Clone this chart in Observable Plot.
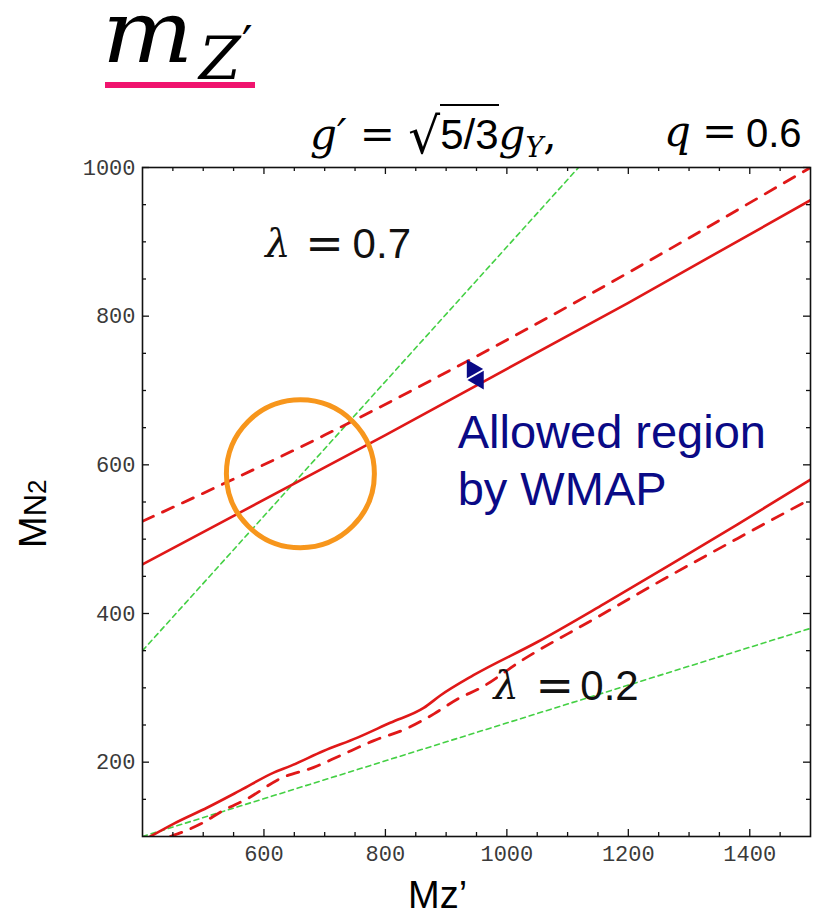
<!DOCTYPE html>
<html><head><meta charset="utf-8">
<script src="https://cdn.jsdelivr.net/npm/d3@7"></script>
<script src="https://cdn.jsdelivr.net/npm/@observablehq/plot@0.6"></script>
<style>
body{margin:0;background:#fff;width:823px;height:916px;overflow:hidden;position:relative;}
#head{position:relative;height:150px;}
.ser{font-family:"DejaVu Serif","Liberation Serif",serif;font-style:italic;}
.rm{font-family:"DejaVu Serif","Liberation Serif",serif;}
.sans{font-family:"Liberation Sans",Arial,sans-serif;}
.abs{position:absolute;white-space:pre;}
</style></head><body>
<div id="head">
  <div class="abs ser" style="left:102px;top:2px;font-size:86px;line-height:60px;transform:scaleX(1.12);transform-origin:left center">m</div>
  <div class="abs ser" style="left:199px;top:38px;font-size:60px;line-height:40px">Z<span class="rm" style="font-style:normal;font-size:48px;position:relative;top:-18px;left:1px">′</span></div>
  <div style="position:absolute;left:105px;top:82px;width:150px;height:6px;background:#f0146e"></div>
  <div class="abs" style="left:310px;top:112px;font-size:42px;line-height:40px"><span class="ser">g′</span><span class="rm"> = </span><span class="rm" style="font-size:50px;position:relative;top:4px">√</span><span class="sans" style="border-top:2px solid #000;padding-top:5px">5/3</span><span class="ser">g</span><span class="ser" style="font-size:27px;position:relative;top:8px">Y</span><span class="rm">,</span></div>
  <div class="abs ser" style="left:664px;top:112px;font-size:42px;line-height:40px">q</div>
  <div class="abs rm" style="left:702px;top:112px;font-size:42px;line-height:40px">=</div>
  <div class="abs sans" style="left:746px;top:113px;font-size:40px;line-height:40px">0.6</div>
</div>
<div id="chart"></div>
<div class="abs sans" style="left:14px;top:548px;line-height:1;transform:rotate(-90deg);transform-origin:left top;font-size:38px">M<span style="font-size:31px">N</span><span style="font-size:26px">2</span></div>
<div class="abs sans" style="left:408px;top:876px;line-height:1;font-size:38px">Mz’</div>
<script>
// ---- data ----
const upperSolid = [[400,466],[800,640],[1200,818],[1500,956]];
const upperDashed = [[400,524],[700,640],[1000,768],[1500,1000]];
const lowerSolid = [[413,100],[451,117],[507,139],[561,162],[616,186],[644,195],[698,215],[754,233],[808,253],[863,273],[891,290],[945,317],[1051,362],[1160,413],[1270,466],[1380,520],[1500,580]];
const lowerDashed = [[446,100],[496,117],[533,135],[573,151],[627,178],[682,193],[726,209],[781,229],[837,246],[880,265],[919,285],[957,300],[1023,336],[1138,390],[1258,446],[1380,501],[1500,554]];
const greenUpper = [[400,350],[1118,1000]];
const greenLower = [[400,100],[1500,380]];
const circleCenter = [[660,588]];
const arrowHeads = [{x:943,y:729,rot:90},{x:953,y:714,rot:-90}];
const xTickLabels = [600,800,1000,1200,1400];
const yTickLabels = [200,400,600,800,1000];
const xMinor = d3.range(450,1500,50).filter(d=>!xTickLabels.includes(d));
const yMinor = d3.range(150,1000,50).filter(d=>!yTickLabels.includes(d));
const labels07 = [{x:602,y:897,t:"λ",f:"lam"},{x:668,y:897,t:"=",f:"eq"},{x:746,y:897,t:"0.7",f:"num"}];
const labels02 = [{x:978,y:302,t:"λ",f:"lam"},{x:1047,y:302,t:"=",f:"eq"},{x:1121,y:302,t:"0.2",f:"num"}];
const wmapLines = [{x:919,y:643,t:"Allowed region"},{x:919,y:566,t:"by WMAP"}];

const W=823,H=766,mT=17,mB=80,mL=142,mR=13;
const ph=H-mT-mB, pw=W-mL-mR;
const red="#e01818", green="#44d044", navy="#0a0a86";
const tickFont={fontFamily:"Liberation Mono, Courier New, monospace",fontSize:22,fill:"#3a3a3a",letterSpacing:"1.5px"};
const lamLabel = (arr)=>[
  Plot.text(arr.filter(d=>d.f==="lam"),{x:"x",y:"y",text:"t",textAnchor:"start",fontFamily:"DejaVu Serif",fontStyle:"italic",fontSize:40,fill:"#111"}),
  Plot.text(arr.filter(d=>d.f==="eq"),{x:"x",y:"y",text:"t",textAnchor:"start",fontFamily:"DejaVu Serif",fontSize:46,fill:"#111"}),
  Plot.text(arr.filter(d=>d.f==="num"),{x:"x",y:"y",text:"t",textAnchor:"start",fontFamily:"Liberation Sans",fontSize:42,fill:"#111"})
];

const chart = Plot.plot({
  width:W,height:H,marginTop:mT,marginBottom:mB,marginLeft:mL,marginRight:mR,
  x:{domain:[400,1500]},y:{domain:[100,1000]},
  style:{background:"white",overflow:"visible"},
  marks:[
    Plot.line(greenUpper,{x:d=>d[0],y:d=>d[1],stroke:green,strokeWidth:1.6,strokeDasharray:"5,4",clip:true}),
    Plot.line(greenLower,{x:d=>d[0],y:d=>d[1],stroke:green,strokeWidth:1.6,strokeDasharray:"5,4",clip:true}),
    Plot.line(upperSolid,{x:d=>d[0],y:d=>d[1],stroke:red,strokeWidth:2.6,curve:"monotone-x",clip:true}),
    Plot.line(upperDashed,{x:d=>d[0],y:d=>d[1],stroke:red,strokeWidth:2.8,strokeDasharray:"12,10",curve:"monotone-x",clip:true}),
    Plot.line(lowerSolid,{x:d=>d[0],y:d=>d[1],stroke:red,strokeWidth:2.6,curve:"monotone-x",clip:true}),
    Plot.line(lowerDashed,{x:d=>d[0],y:d=>d[1],stroke:red,strokeWidth:2.8,strokeDasharray:"12,10",curve:"monotone-x",clip:true}),
    Plot.dot(circleCenter,{x:d=>d[0],y:d=>d[1],r:74,stroke:"#f7961c",strokeWidth:5,fill:"none"}),
    Plot.dot(arrowHeads,{x:"x",y:"y",symbol:"triangle2",r:9,fill:navy,rotate:"rot"}),
    ...lamLabel(labels07),
    ...lamLabel(labels02),
    Plot.text(wmapLines,{x:"x",y:"y",text:"t",textAnchor:"start",fontFamily:"Liberation Sans",fontSize:47,fill:navy}),
    // inward ticks
    Plot.tickX(xTickLabels,{x:d=>d,insetTop:ph-7,stroke:"#111",strokeWidth:1.3}),
    Plot.tickX(xTickLabels,{x:d=>d,insetBottom:ph-7,stroke:"#111",strokeWidth:1.3}),
    Plot.tickX(xMinor,{x:d=>d,insetTop:ph-4,stroke:"#111",strokeWidth:1.3}),
    Plot.tickX(xMinor,{x:d=>d,insetBottom:ph-4,stroke:"#111",strokeWidth:1.3}),
    Plot.tickY(yTickLabels,{y:d=>d,insetRight:pw-7,stroke:"#111",strokeWidth:1.3}),
    Plot.tickY(yTickLabels,{y:d=>d,insetLeft:pw-7,stroke:"#111",strokeWidth:1.3}),
    Plot.tickY(yMinor,{y:d=>d,insetRight:pw-4,stroke:"#111",strokeWidth:1.3}),
    Plot.tickY(yMinor,{y:d=>d,insetLeft:pw-4,stroke:"#111",strokeWidth:1.3}),
    Plot.axisX({ticks:xTickLabels,tickFormat:d=>String(d),tickSize:0,tickPadding:9,label:null,...tickFont}),
    Plot.axisY({ticks:yTickLabels,tickFormat:d=>String(d),tickSize:0,tickPadding:7,label:null,...tickFont}),
    Plot.frame({stroke:"#111",strokeWidth:1.6})
  ]
});
document.getElementById("chart").appendChild(chart);
</script>
</body></html>
